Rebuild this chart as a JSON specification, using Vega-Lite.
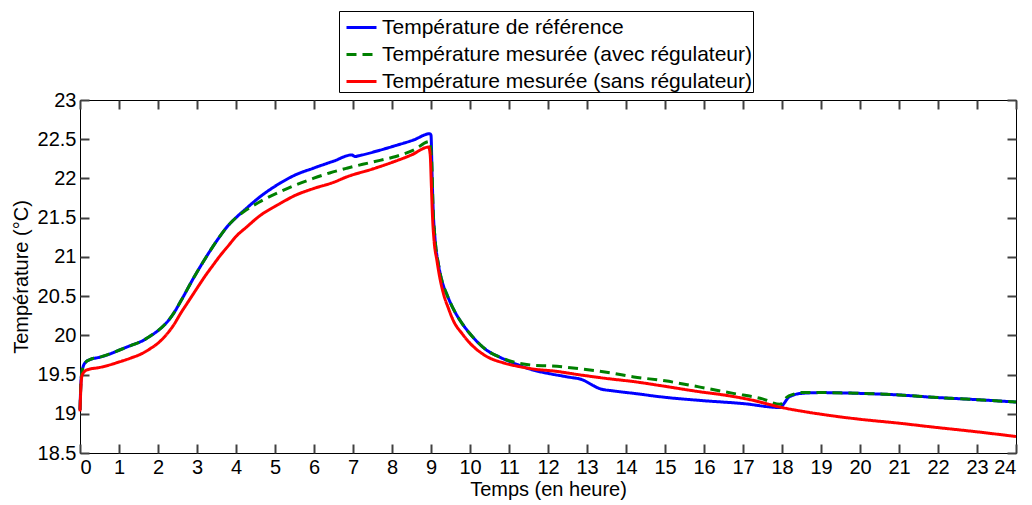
{
  "$schema": "https://vega.github.io/schema/vega-lite/v6.json",
  "width": 936,
  "height": 353,
  "autosize": {"type": "none"},
  "padding": {"left": 80, "top": 100, "right": 16, "bottom": 52},
  "config": {
    "view": {"stroke": "black", "strokeWidth": 1},
    "legend": {
      "orient": "none",
      "legendX": 259,
      "legendY": -89,
      "strokeColor": "black",
      "fillColor": "white",
      "padding": 0,
      "labelFont": "Liberation Sans",
      "labelFontSize": 21,
      "labelColor": "black",
      "labelLimit": 600,
      "symbolType": "stroke",
      "symbolSize": 900,
      "symbolStrokeWidth": 3,
      "symbolOffset": 6,
      "rowPadding": -0.5,
      "labelOffset": 4,
      "title": null
    }
  },
  "data": {"values": [
      {"t": 0, "v": 19.05, "s": "Température de référence"},
      {"t": 0.03, "v": 19.45, "s": "Température de référence"},
      {"t": 0.08, "v": 19.6, "s": "Température de référence"},
      {"t": 0.15, "v": 19.66, "s": "Température de référence"},
      {"t": 0.25, "v": 19.69, "s": "Température de référence"},
      {"t": 0.5, "v": 19.72, "s": "Température de référence"},
      {"t": 0.75, "v": 19.76, "s": "Température de référence"},
      {"t": 1.0, "v": 19.81, "s": "Température de référence"},
      {"t": 1.3, "v": 19.87, "s": "Température de référence"},
      {"t": 1.6, "v": 19.93, "s": "Température de référence"},
      {"t": 1.8, "v": 19.99, "s": "Température de référence"},
      {"t": 2.0, "v": 20.06, "s": "Température de référence"},
      {"t": 2.2, "v": 20.15, "s": "Température de référence"},
      {"t": 2.4, "v": 20.28, "s": "Température de référence"},
      {"t": 2.6, "v": 20.45, "s": "Température de référence"},
      {"t": 2.9, "v": 20.72, "s": "Température de référence"},
      {"t": 3.2, "v": 20.97, "s": "Température de référence"},
      {"t": 3.5, "v": 21.2, "s": "Température de référence"},
      {"t": 3.8, "v": 21.4, "s": "Température de référence"},
      {"t": 4.0, "v": 21.5, "s": "Température de référence"},
      {"t": 4.27, "v": 21.62, "s": "Température de référence"},
      {"t": 4.6, "v": 21.76, "s": "Température de référence"},
      {"t": 5.13, "v": 21.94, "s": "Température de référence"},
      {"t": 5.5, "v": 22.04, "s": "Température de référence"},
      {"t": 5.98, "v": 22.13, "s": "Température de référence"},
      {"t": 6.5, "v": 22.22, "s": "Température de référence"},
      {"t": 6.97, "v": 22.3, "s": "Température de référence"},
      {"t": 7.05, "v": 22.28, "s": "Température de référence"},
      {"t": 7.15, "v": 22.29, "s": "Température de référence"},
      {"t": 7.69, "v": 22.36, "s": "Température de référence"},
      {"t": 8.1, "v": 22.42, "s": "Température de référence"},
      {"t": 8.55, "v": 22.49, "s": "Température de référence"},
      {"t": 8.97, "v": 22.57, "s": "Température de référence"},
      {"t": 9.0, "v": 22.55, "s": "Température de référence"},
      {"t": 9.03, "v": 22.0, "s": "Température de référence"},
      {"t": 9.06, "v": 21.55, "s": "Température de référence"},
      {"t": 9.1, "v": 21.25, "s": "Température de référence"},
      {"t": 9.2, "v": 20.88, "s": "Température de référence"},
      {"t": 9.3, "v": 20.66, "s": "Température de référence"},
      {"t": 9.4, "v": 20.53, "s": "Température de référence"},
      {"t": 9.57, "v": 20.34, "s": "Température de référence"},
      {"t": 9.8, "v": 20.15, "s": "Température de référence"},
      {"t": 10.0, "v": 20.02, "s": "Température de référence"},
      {"t": 10.43, "v": 19.81, "s": "Température de référence"},
      {"t": 10.77, "v": 19.72, "s": "Température de référence"},
      {"t": 11.2, "v": 19.63, "s": "Température de référence"},
      {"t": 11.6, "v": 19.56, "s": "Température de référence"},
      {"t": 12.05, "v": 19.51, "s": "Température de référence"},
      {"t": 12.5, "v": 19.47, "s": "Température de référence"},
      {"t": 12.9, "v": 19.43, "s": "Température de référence"},
      {"t": 13.05, "v": 19.39, "s": "Température de référence"},
      {"t": 13.33, "v": 19.32, "s": "Température de référence"},
      {"t": 13.7, "v": 19.29, "s": "Température de référence"},
      {"t": 14.2, "v": 19.26, "s": "Température de référence"},
      {"t": 15.0, "v": 19.21, "s": "Température de référence"},
      {"t": 15.9, "v": 19.17, "s": "Température de référence"},
      {"t": 17.0, "v": 19.13, "s": "Température de référence"},
      {"t": 17.95, "v": 19.08, "s": "Température de référence"},
      {"t": 18.05, "v": 19.13, "s": "Température de référence"},
      {"t": 18.15, "v": 19.2, "s": "Température de référence"},
      {"t": 18.3, "v": 19.24, "s": "Température de référence"},
      {"t": 18.5, "v": 19.26, "s": "Température de référence"},
      {"t": 19.0, "v": 19.27, "s": "Température de référence"},
      {"t": 20.0, "v": 19.26, "s": "Température de référence"},
      {"t": 21.0, "v": 19.24, "s": "Température de référence"},
      {"t": 21.88, "v": 19.21, "s": "Température de référence"},
      {"t": 23.0, "v": 19.18, "s": "Température de référence"},
      {"t": 24.0, "v": 19.15, "s": "Température de référence"},

      {"t": 0, "v": 19.05, "s": "Température mesurée (avec régulateur)"},
      {"t": 0.03, "v": 19.45, "s": "Température mesurée (avec régulateur)"},
      {"t": 0.08, "v": 19.6, "s": "Température mesurée (avec régulateur)"},
      {"t": 0.15, "v": 19.66, "s": "Température mesurée (avec régulateur)"},
      {"t": 0.25, "v": 19.69, "s": "Température mesurée (avec régulateur)"},
      {"t": 0.5, "v": 19.72, "s": "Température mesurée (avec régulateur)"},
      {"t": 0.75, "v": 19.76, "s": "Température mesurée (avec régulateur)"},
      {"t": 1.0, "v": 19.81, "s": "Température mesurée (avec régulateur)"},
      {"t": 1.3, "v": 19.87, "s": "Température mesurée (avec régulateur)"},
      {"t": 1.6, "v": 19.93, "s": "Température mesurée (avec régulateur)"},
      {"t": 1.8, "v": 19.99, "s": "Température mesurée (avec régulateur)"},
      {"t": 2.0, "v": 20.06, "s": "Température mesurée (avec régulateur)"},
      {"t": 2.2, "v": 20.15, "s": "Température mesurée (avec régulateur)"},
      {"t": 2.4, "v": 20.28, "s": "Température mesurée (avec régulateur)"},
      {"t": 2.6, "v": 20.45, "s": "Température mesurée (avec régulateur)"},
      {"t": 2.9, "v": 20.72, "s": "Température mesurée (avec régulateur)"},
      {"t": 3.2, "v": 20.97, "s": "Température mesurée (avec régulateur)"},
      {"t": 3.5, "v": 21.2, "s": "Température mesurée (avec régulateur)"},
      {"t": 3.8, "v": 21.4, "s": "Température mesurée (avec régulateur)"},
      {"t": 4.0, "v": 21.5, "s": "Température mesurée (avec régulateur)"},
      {"t": 4.27, "v": 21.6, "s": "Température mesurée (avec régulateur)"},
      {"t": 4.6, "v": 21.7, "s": "Température mesurée (avec régulateur)"},
      {"t": 5.13, "v": 21.83, "s": "Température mesurée (avec régulateur)"},
      {"t": 5.5, "v": 21.91, "s": "Température mesurée (avec régulateur)"},
      {"t": 5.98, "v": 22.0, "s": "Température mesurée (avec régulateur)"},
      {"t": 6.4, "v": 22.07, "s": "Température mesurée (avec régulateur)"},
      {"t": 6.84, "v": 22.13, "s": "Température mesurée (avec régulateur)"},
      {"t": 7.25, "v": 22.18, "s": "Température mesurée (avec régulateur)"},
      {"t": 7.69, "v": 22.23, "s": "Température mesurée (avec régulateur)"},
      {"t": 8.1, "v": 22.28, "s": "Température mesurée (avec régulateur)"},
      {"t": 8.55, "v": 22.36, "s": "Température mesurée (avec régulateur)"},
      {"t": 8.96, "v": 22.47, "s": "Température mesurée (avec régulateur)"},
      {"t": 9.02, "v": 22.2, "s": "Température mesurée (avec régulateur)"},
      {"t": 9.05, "v": 21.65, "s": "Température mesurée (avec régulateur)"},
      {"t": 9.1, "v": 21.25, "s": "Température mesurée (avec régulateur)"},
      {"t": 9.2, "v": 20.88, "s": "Température mesurée (avec régulateur)"},
      {"t": 9.3, "v": 20.66, "s": "Température mesurée (avec régulateur)"},
      {"t": 9.4, "v": 20.53, "s": "Température mesurée (avec régulateur)"},
      {"t": 9.57, "v": 20.34, "s": "Température mesurée (avec régulateur)"},
      {"t": 9.8, "v": 20.15, "s": "Température mesurée (avec régulateur)"},
      {"t": 10.0, "v": 20.02, "s": "Température mesurée (avec régulateur)"},
      {"t": 10.43, "v": 19.81, "s": "Température mesurée (avec régulateur)"},
      {"t": 10.77, "v": 19.72, "s": "Température mesurée (avec régulateur)"},
      {"t": 11.2, "v": 19.65, "s": "Température mesurée (avec régulateur)"},
      {"t": 11.6, "v": 19.62, "s": "Température mesurée (avec régulateur)"},
      {"t": 12.05, "v": 19.61, "s": "Température mesurée (avec régulateur)"},
      {"t": 12.9, "v": 19.57, "s": "Température mesurée (avec régulateur)"},
      {"t": 13.5, "v": 19.53, "s": "Température mesurée (avec régulateur)"},
      {"t": 14.2, "v": 19.47, "s": "Température mesurée (avec régulateur)"},
      {"t": 15.0, "v": 19.42, "s": "Température mesurée (avec régulateur)"},
      {"t": 15.9, "v": 19.34, "s": "Température mesurée (avec régulateur)"},
      {"t": 16.75, "v": 19.26, "s": "Température mesurée (avec régulateur)"},
      {"t": 17.5, "v": 19.19, "s": "Température mesurée (avec régulateur)"},
      {"t": 17.95, "v": 19.12, "s": "Température mesurée (avec régulateur)"},
      {"t": 18.05, "v": 19.16, "s": "Température mesurée (avec régulateur)"},
      {"t": 18.12, "v": 19.21, "s": "Température mesurée (avec régulateur)"},
      {"t": 18.3, "v": 19.25, "s": "Température mesurée (avec régulateur)"},
      {"t": 18.5, "v": 19.27, "s": "Température mesurée (avec régulateur)"},
      {"t": 19.0, "v": 19.27, "s": "Température mesurée (avec régulateur)"},
      {"t": 20.0, "v": 19.26, "s": "Température mesurée (avec régulateur)"},
      {"t": 21.0, "v": 19.24, "s": "Température mesurée (avec régulateur)"},
      {"t": 21.88, "v": 19.21, "s": "Température mesurée (avec régulateur)"},
      {"t": 23.0, "v": 19.18, "s": "Température mesurée (avec régulateur)"},
      {"t": 24.0, "v": 19.15, "s": "Température mesurée (avec régulateur)"},

      {"t": 0, "v": 19.03, "s": "Température mesurée (sans régulateur)"},
      {"t": 0.03, "v": 19.4, "s": "Température mesurée (sans régulateur)"},
      {"t": 0.06, "v": 19.5, "s": "Température mesurée (sans régulateur)"},
      {"t": 0.18, "v": 19.56, "s": "Température mesurée (sans régulateur)"},
      {"t": 0.5, "v": 19.59, "s": "Température mesurée (sans régulateur)"},
      {"t": 0.74, "v": 19.62, "s": "Température mesurée (sans régulateur)"},
      {"t": 1.0, "v": 19.66, "s": "Température mesurée (sans régulateur)"},
      {"t": 1.3, "v": 19.71, "s": "Température mesurée (sans régulateur)"},
      {"t": 1.6, "v": 19.77, "s": "Température mesurée (sans régulateur)"},
      {"t": 1.8, "v": 19.83, "s": "Température mesurée (sans régulateur)"},
      {"t": 2.0, "v": 19.9, "s": "Température mesurée (sans régulateur)"},
      {"t": 2.2, "v": 20.0, "s": "Température mesurée (sans régulateur)"},
      {"t": 2.4, "v": 20.13, "s": "Température mesurée (sans régulateur)"},
      {"t": 2.58, "v": 20.28, "s": "Température mesurée (sans régulateur)"},
      {"t": 2.79, "v": 20.44, "s": "Température mesurée (sans régulateur)"},
      {"t": 3.0, "v": 20.6, "s": "Température mesurée (sans régulateur)"},
      {"t": 3.2, "v": 20.75, "s": "Température mesurée (sans régulateur)"},
      {"t": 3.42, "v": 20.9, "s": "Température mesurée (sans régulateur)"},
      {"t": 3.6, "v": 21.02, "s": "Température mesurée (sans régulateur)"},
      {"t": 3.8, "v": 21.14, "s": "Température mesurée (sans régulateur)"},
      {"t": 4.0, "v": 21.26, "s": "Température mesurée (sans régulateur)"},
      {"t": 4.27, "v": 21.38, "s": "Température mesurée (sans régulateur)"},
      {"t": 4.6, "v": 21.52, "s": "Température mesurée (sans régulateur)"},
      {"t": 5.13, "v": 21.68, "s": "Température mesurée (sans régulateur)"},
      {"t": 5.5, "v": 21.78, "s": "Température mesurée (sans régulateur)"},
      {"t": 5.98, "v": 21.87, "s": "Température mesurée (sans régulateur)"},
      {"t": 6.5, "v": 21.95, "s": "Température mesurée (sans régulateur)"},
      {"t": 6.84, "v": 22.02, "s": "Température mesurée (sans régulateur)"},
      {"t": 7.5, "v": 22.12, "s": "Température mesurée (sans régulateur)"},
      {"t": 8.03, "v": 22.21, "s": "Température mesurée (sans régulateur)"},
      {"t": 8.5, "v": 22.3, "s": "Température mesurée (sans régulateur)"},
      {"t": 8.94, "v": 22.4, "s": "Température mesurée (sans régulateur)"},
      {"t": 8.98, "v": 22.3, "s": "Température mesurée (sans régulateur)"},
      {"t": 9.01, "v": 21.9, "s": "Température mesurée (sans régulateur)"},
      {"t": 9.04, "v": 21.5, "s": "Température mesurée (sans régulateur)"},
      {"t": 9.08, "v": 21.2, "s": "Température mesurée (sans régulateur)"},
      {"t": 9.15, "v": 20.96, "s": "Température mesurée (sans régulateur)"},
      {"t": 9.22, "v": 20.75, "s": "Température mesurée (sans régulateur)"},
      {"t": 9.32, "v": 20.53, "s": "Température mesurée (sans régulateur)"},
      {"t": 9.45, "v": 20.34, "s": "Température mesurée (sans régulateur)"},
      {"t": 9.57, "v": 20.19, "s": "Température mesurée (sans régulateur)"},
      {"t": 9.8, "v": 20.02, "s": "Température mesurée (sans régulateur)"},
      {"t": 10.0, "v": 19.9, "s": "Température mesurée (sans régulateur)"},
      {"t": 10.43, "v": 19.73, "s": "Température mesurée (sans régulateur)"},
      {"t": 10.85, "v": 19.65, "s": "Température mesurée (sans régulateur)"},
      {"t": 11.28, "v": 19.6, "s": "Température mesurée (sans régulateur)"},
      {"t": 11.8, "v": 19.56, "s": "Température mesurée (sans régulateur)"},
      {"t": 12.05, "v": 19.55, "s": "Température mesurée (sans régulateur)"},
      {"t": 12.9, "v": 19.49, "s": "Température mesurée (sans régulateur)"},
      {"t": 13.5, "v": 19.45, "s": "Température mesurée (sans régulateur)"},
      {"t": 14.2, "v": 19.41, "s": "Température mesurée (sans régulateur)"},
      {"t": 15.0, "v": 19.35, "s": "Température mesurée (sans régulateur)"},
      {"t": 15.9, "v": 19.28, "s": "Température mesurée (sans régulateur)"},
      {"t": 16.5, "v": 19.24, "s": "Température mesurée (sans régulateur)"},
      {"t": 17.18, "v": 19.18, "s": "Température mesurée (sans régulateur)"},
      {"t": 18.0, "v": 19.08, "s": "Température mesurée (sans régulateur)"},
      {"t": 19.06, "v": 18.99, "s": "Température mesurée (sans régulateur)"},
      {"t": 20.0, "v": 18.93, "s": "Température mesurée (sans régulateur)"},
      {"t": 21.0, "v": 18.88, "s": "Température mesurée (sans régulateur)"},
      {"t": 21.88, "v": 18.83, "s": "Température mesurée (sans régulateur)"},
      {"t": 23.0, "v": 18.77, "s": "Température mesurée (sans régulateur)"},
      {"t": 24.0, "v": 18.71, "s": "Température mesurée (sans régulateur)"}
  ]},
  "layer": [
    {
      "mark": {"type": "line", "strokeWidth": 3, "interpolate": "monotone"},
      "encoding": {
        "x": {"field": "t", "type": "quantitative",
          "scale": {"domain": [0, 24], "nice": false, "zero": false},
          "axis": {"orient": "bottom", "title": "Temps (en heure)", "tickCount": 24,
                   "labelFont": "Liberation Sans", "labelFontSize": 20, "labelColor": "black",
                   "titleFont": "Liberation Sans", "titleFontSize": 20, "titleFontWeight": "normal", "titleColor": "black",
                   "gridOpacity": 0, "domain": false,
                   "tickColor": "#404040", "tickWidth": 2, "tickSize": -9, "labelPadding": 13, "titlePadding": 2}},
        "y": {"field": "v", "type": "quantitative",
          "scale": {"domain": [18.5, 23], "nice": false, "zero": false},
          "axis": {"orient": "left", "title": "Température (°C)", "format": "~g", "tickCount": 9,
                   "labelFont": "Liberation Sans", "labelFontSize": 20, "labelColor": "black",
                   "titleFont": "Liberation Sans", "titleFontSize": 20, "titleFontWeight": "normal", "titleColor": "black",
                   "gridOpacity": 0, "domain": false,
                   "tickColor": "#404040", "tickWidth": 2, "tickSize": -9, "labelPadding": 13, "titlePadding": 6}},
        "color": {"field": "s", "type": "nominal",
          "scale": {"domain": ["Température de référence", "Température mesurée (avec régulateur)", "Température mesurée (sans régulateur)"],
                    "range": ["#0000FF", "#008000", "#FF0000"]},
          "legend": {"labelExpr": "datum.label + '\u00a0\u00a0\u00a0'"}},
        "strokeDash": {"field": "s", "type": "nominal",
          "scale": {"domain": ["Température de référence", "Température mesurée (avec régulateur)", "Température mesurée (sans régulateur)"],
                    "range": [[1, 0], [10, 6], [1, 0]]},
          "legend": {"labelExpr": "datum.label + '\u00a0\u00a0\u00a0'"}}
      }
    },
    {
      "transform": [{"filter": "datum.t < -1"}],
      "mark": {"type": "line"},
      "encoding": {
        "x": {"field": "t", "type": "quantitative",
          "axis": {"orient": "top", "title": null, "labels": false, "tickCount": 24,
                   "gridOpacity": 0, "domain": false,
                   "tickColor": "#404040", "tickWidth": 2, "tickSize": -9}},
        "y": {"field": "v", "type": "quantitative",
          "axis": {"orient": "right", "title": null, "labels": false, "tickCount": 9,
                   "gridOpacity": 0, "domain": false,
                   "tickColor": "#404040", "tickWidth": 2, "tickSize": -9}}
      }
    }
  ],
  "resolve": {"axis": {"x": "independent", "y": "independent"}}
}
